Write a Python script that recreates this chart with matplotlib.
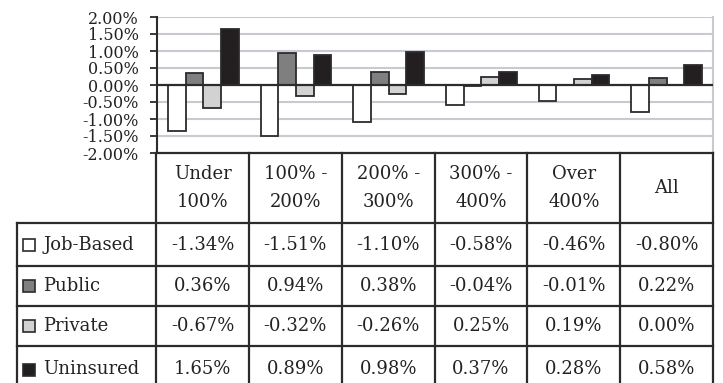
import matplotlib
matplotlib.use("Agg")
import matplotlib.pyplot as plt
from matplotlib.patches import Rectangle
from matplotlib.ticker import PercentFormatter

# 各收入層級（佔貧窮線百分比）的保險來源變化
categories = ["Under\n100%", "100% -\n200%", "200% -\n300%", "300% -\n400%", "Over\n400%", "All"]
series_names = ["Job-Based", "Public", "Private", "Uninsured"]
job_based = [-1.34, -1.51, -1.10, -0.58, -0.46, -0.80]
public = [0.36, 0.94, 0.38, -0.04, -0.01, 0.22]
private = [-0.67, -0.32, -0.26, 0.25, 0.19, 0.00]
uninsured = [1.65, 0.89, 0.98, 0.37, 0.28, 0.58]
y_ticks = [-2.0, -1.5, -1.0, -0.5, 0.0, 0.5, 1.0, 1.5, 2.0]

colors = ["#ffffff", "#7f7f7f", "#d2d2d2", "#231f20"]
LINE = "#2b2b2b"
GRID = "#c9c9d1"

plt.rcParams["font.family"] = ["DejaVu Serif"]
plt.rcParams["axes.unicode_minus"] = False

W, H = 723, 383
fig = plt.figure(figsize=(W / 100, H / 100), dpi=100)

# 上方長條圖
ax = fig.add_axes([157 / W, 1 - 153 / H, (713 - 157) / W, (153 - 17) / H])
n = len(categories)
width = 0.19
all_series = [job_based, public, private, uninsured]
for i, vals in enumerate(all_series):
    xs = [c + (i - 1.5) * width for c in range(n)]
    ax.bar(xs, vals, width=width, color=colors[i], edgecolor=LINE,
           linewidth=1.3, zorder=3)

ax.set_xlim(-0.5, n - 0.5)
ax.set_ylim(-2.0, 2.0)
ax.set_yticks(y_ticks)
ax.yaxis.set_major_formatter(PercentFormatter(xmax=100, decimals=2))
ax.set_xticks([])
ax.tick_params(axis="y", length=5, width=1.3, color=LINE, pad=8,
               labelsize=11.5, labelcolor="#222222")
for y in y_ticks:
    if y not in (0.0, -2.0):
        ax.axhline(y, color=GRID, linewidth=1.5, zorder=1)
ax.axhline(0, color=LINE, linewidth=1.6, zorder=4)
ax.spines["left"].set_color(LINE)
ax.spines["left"].set_linewidth(1.5)
ax.spines["right"].set_color(GRID)
ax.spines["right"].set_linewidth(1.5)
ax.spines["top"].set_visible(False)
ax.spines["bottom"].set_visible(False)

# 下方資料表，欄位與長條圖的類別對齊（y 以像素為單位，由上往下）
tx = fig.add_axes([17 / W, 0, (713 - 17) / W, (H - 153) / H])
tx.set_xlim(-2.0, n - 0.5)
tx.set_ylim(H - 153, 0)
tx.axis("off")
rows = [0, 70, 113, 153, 193, 240]
lw = 1.6
kw = dict(color=LINE, linewidth=lw, clip_on=False)

tx.plot([-0.5, n - 0.5], [rows[0], rows[0]], **kw)
for r in rows[1:5]:
    tx.plot([-2.0, n - 0.5], [r, r], **kw)
for c in range(n + 1):
    tx.plot([c - 0.5, c - 0.5], [rows[0], rows[-1]], **kw)
tx.plot([-2.0, -2.0], [rows[1], rows[-1]], **kw)

for c, label in enumerate(categories):
    tx.text(c, (rows[0] + rows[1]) / 2, label, ha="center", va="center",
            fontsize=13, linespacing=1.75, color="#222222")

px = 7.5 / 696
for r, (name, vals) in enumerate(zip(series_names, all_series)):
    yc = (rows[r + 1] + rows[r + 2]) / 2
    tx.add_patch(Rectangle((-2.0 + 6 * px, yc - 6), 12 * px, 12,
                           facecolor=colors[r], edgecolor=LINE, linewidth=1.2,
                           clip_on=False))
    tx.text(-2.0 + 26 * px, yc, name, ha="left", va="center", fontsize=13,
            color="#222222")
    for c, v in enumerate(vals):
        tx.text(c, yc, f"{v:.2f}%", ha="center", va="center", fontsize=13,
                color="#222222")

fig.savefig("out.png", dpi=100)
